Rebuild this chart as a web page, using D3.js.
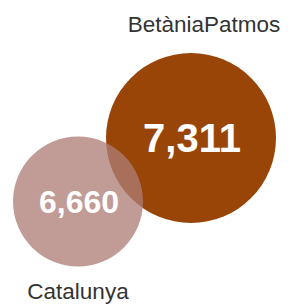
<!DOCTYPE html>
<html>
<head>
<meta charset="utf-8">
<script src="https://cdn.jsdelivr.net/npm/d3@7"></script>
<style>
  html, body { margin: 0; padding: 0; background: #fff; }
  svg { display: block; }
</style>
</head>
<body>
<svg id="chart" width="293" height="308"></svg>
<script>
// Data
const categories = ["Catalunya", "BetàniaPatmos"];
const values = [6660, 7311];

const W = 293, H = 308;
const svg = d3.select("#chart");

// Scales
const r = d3.scaleLinear().domain([6660, 7311]).range([65, 85]);
// layout: centres placed along a diagonal
const x = d3.scalePoint().domain(categories).range([78, 191]);
const y = d3.scalePoint().domain(categories).range([201.5, 138]);

const colors = { "Catalunya": "#ae7d75", "BetàniaPatmos": "#994508" };
const opac = { "Catalunya": 0.76, "BetàniaPatmos": 1 };
const labelShift = { "Catalunya": 0, "BetàniaPatmos": 13 };

const data = categories.map((c, i) => ({ cat: c, value: values[i] }));
// draw largest first so the smaller sits on top
const order = data.slice().sort((a, b) => b.value - a.value);

const fmt = d3.format(",");

const g = svg.selectAll("g.bubble").data(order).join("g")
  .attr("class", "bubble")
  .attr("opacity", d => opac[d.cat]);

g.append("circle")
  .attr("cx", d => x(d.cat))
  .attr("cy", d => y(d.cat))
  .attr("r", d => r(d.value))
  .attr("fill", d => colors[d.cat]);

g.append("text")
  .attr("x", d => x(d.cat) + 1)
  .attr("y", d => y(d.cat))
  .attr("dy", "0.36em")
  .attr("text-anchor", "middle")
  .attr("fill", "#fff")
  .attr("font-family", "Liberation Sans, Arial, sans-serif")
  .attr("font-weight", "bold")
  .attr("font-size", d => 6 + r(d.value) * 0.4)
  .text(d => fmt(d.value));

// Category labels
svg.selectAll("text.lab").data(data).join("text")
  .attr("class", "lab")
  .attr("text-anchor", "middle")
  .attr("font-family", "Liberation Sans, Arial, sans-serif")
  .attr("font-size", 22.5)
  .attr("fill", "#333")
  .attr("x", d => x(d.cat) + labelShift[d.cat])
  .attr("y", d => d.cat === "BetàniaPatmos" ? y(d.cat) - r(d.value) - 21 : y(d.cat) + r(d.value) + 32)
  .text(d => d.cat);
</script>
</body>
</html>
